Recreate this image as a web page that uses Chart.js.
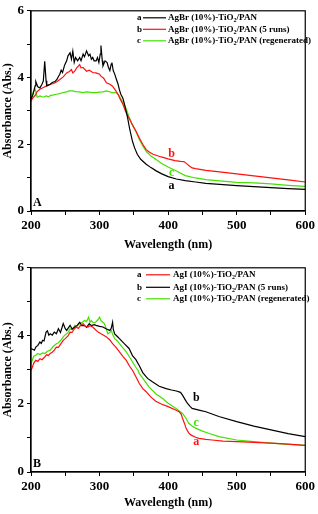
<!DOCTYPE html>
<html>
<head>
<meta charset="utf-8">
<script src="https://cdn.jsdelivr.net/npm/chart.js@4.4.1/dist/chart.umd.min.js"></script>
<style>
html,body{margin:0;padding:0;background:#fff;}
#wrap{position:relative;width:318px;height:514px;}
.panel{position:absolute;left:0;width:318px;}
#pa{top:0;height:256px;}
#pb{top:257px;height:257px;}
</style>
</head>
<body>
<div id="wrap">
  <div class="panel" id="pa"><canvas id="chartA"></canvas></div>
  <div class="panel" id="pb"><canvas id="chartB"></canvas></div>
</div>
<script>
// ---- panel A : AgBr ----
const brFreshX = [200,203,206,207,210,213,216,218,220,222,223,226,228,231,235,238,240,242,244,246,249,252,254,257,259,261,263,265,268,271,273,276,278,281,284,286,288,290,292,295,297,299,301,302,304,305,308,311,313,315,317,318,320,322,325,327,329,331,334,337,341,344,348,351,355,360,368,375,382,390,400,412,425,440,455,475,500,525,550,575,600];
const brFreshY = [3.36,3.5,3.75,3.88,3.72,3.69,3.8,3.9,4.49,3.9,3.75,3.78,3.8,3.85,3.88,3.95,4.03,4.1,4.22,4.15,4.37,4.5,4.65,4.74,4.55,4.79,4.45,4.6,4.5,4.6,4.5,4.7,4.62,4.8,4.65,4.7,4.55,4.6,4.5,4.5,4.6,4.45,4.7,4.96,4.5,4.35,4.5,4.45,4.3,4.21,4.4,4.45,4.2,4.11,3.92,3.8,3.63,3.5,3.38,3.15,2.78,2.45,2.09,1.9,1.7,1.55,1.4,1.3,1.21,1.12,1.03,0.96,0.91,0.87,0.83,0.8,0.76,0.73,0.7,0.67,0.65];

const brRunsX = [200,203,206,209,213,218,223,228,233,238,242,247,252,256,259,261,264,267,271,273,276,281,285,290,295,300,302,306,310,315,319,323,327,330,334,338,341,348,353,358,363,368,373,378,390,400,410,418,423,427,431,435,440,455,475,500,525,550,575,600];
const brRunsY = [3.31,3.4,3.46,3.58,3.65,3.7,3.75,3.8,3.82,3.88,3.94,4.02,4.14,4.18,4.24,4.14,4.2,4.3,4.39,4.29,4.3,4.19,4.22,4.15,4.14,4.1,4.04,3.98,3.84,3.8,3.74,3.62,3.5,3.36,3.2,2.98,2.86,2.58,2.4,2.19,2.0,1.84,1.76,1.7,1.62,1.56,1.51,1.49,1.48,1.42,1.35,1.29,1.27,1.22,1.17,1.11,1.05,0.99,0.93,0.87];

const brRegenX = [200,203,206,208,209,213,218,222,226,228,233,237,242,247,252,256,261,265,270,276,281,285,290,295,300,305,310,314,318,324,328,331,335,339,343,348,353,358,363,368,375,382,390,400,412,425,440,455,475,500,525,550,575,600];
const brRegenY = [3.26,3.56,3.65,3.5,3.41,3.45,3.41,3.45,3.42,3.46,3.48,3.5,3.52,3.55,3.57,3.6,3.6,3.58,3.57,3.55,3.57,3.56,3.55,3.55,3.56,3.57,3.6,3.58,3.55,3.55,3.47,3.36,3.2,3.06,2.82,2.58,2.38,2.14,1.95,1.79,1.65,1.55,1.43,1.32,1.2,1.06,0.99,0.94,0.9,0.86,0.84,0.81,0.77,0.74];

const legendA = ['AgBr (10%)-TiO2/PAN', 'AgBr (10%)-TiO2/PAN (5 runs)', 'AgBr (10%)-TiO2/PAN (regenerated)'];

// ---- panel B : AgI ----
const iFreshX = [200,202,204,207,210,213,216,220,223,225,228,231,234,237,240,243,247,250,254,257,260,263,266,269,272,276,279,283,286,290,294,298,302,306,310,315,319,324,329,334,339,344,348,353,358,363,368,375,382,390,400,411,416,419,421,424,426,430,433,440,445,455,464,480,500,525,550,575,600];
const iFreshY = [2.98,3.08,3.2,3.28,3.25,3.33,3.3,3.38,3.45,3.42,3.48,3.52,3.58,3.67,3.66,3.75,3.87,3.92,4.0,4.11,4.1,4.2,4.26,4.22,4.3,4.36,4.28,4.26,4.3,4.26,4.18,4.11,4.06,4.02,3.97,3.88,3.77,3.66,3.53,3.4,3.28,3.1,2.99,2.8,2.6,2.45,2.36,2.2,2.08,2.0,1.92,1.82,1.77,1.7,1.58,1.42,1.29,1.15,1.09,1.02,0.99,0.96,0.94,0.91,0.89,0.87,0.85,0.82,0.78];

const iRunsX = [200,203,205,207,210,213,215,217,219,222,224,226,228,231,234,237,240,243,247,250,252,255,257,260,264,267,271,274,278,281,285,288,292,295,300,305,310,315,317,319,320,322,326,329,336,343,348,353,358,363,370,377,387,397,405,412,418,421,425,428,432,435,445,455,474,500,525,550,575,600];
const iRunsY = [3.63,3.6,3.58,3.67,3.72,3.82,3.78,3.87,3.85,4.11,4.15,4.02,4.06,4.02,4.11,4.06,4.21,4.1,4.36,4.21,4.16,4.25,4.31,4.2,4.26,4.3,4.4,4.3,4.31,4.25,4.36,4.3,4.33,4.31,4.28,4.26,4.2,4.16,4.22,4.4,4.2,4.06,3.98,3.92,3.77,3.63,3.42,3.3,3.12,2.92,2.75,2.65,2.52,2.45,2.41,2.38,2.34,2.26,2.12,2.02,1.93,1.87,1.82,1.77,1.63,1.48,1.35,1.24,1.13,1.04];

const iRegenX = [200,202,204,207,210,213,217,220,224,228,232,237,240,244,247,251,254,257,260,264,267,271,275,278,281,284,286,288,290,293,295,298,300,302,305,307,310,312,315,317,320,322,326,329,334,339,343,348,352,356,358,365,372,382,392,400,411,416,421,426,430,435,440,450,459,474,500,525,550,575,600];
const iRegenY = [3.18,3.3,3.4,3.43,3.48,3.45,3.5,3.48,3.55,3.58,3.68,3.77,3.8,3.88,3.97,4.05,4.1,4.21,4.18,4.31,4.28,4.36,4.4,4.45,4.42,4.55,4.4,4.45,4.4,4.38,4.42,4.48,4.55,4.45,4.4,4.36,4.2,4.06,4.1,4.16,4.0,3.92,3.85,3.77,3.65,3.53,3.4,3.24,3.1,2.99,2.89,2.7,2.5,2.3,2.16,2.02,1.87,1.8,1.72,1.58,1.43,1.35,1.29,1.2,1.14,1.04,0.94,0.89,0.85,0.81,0.78];

const legendB = ['AgI (10%)-TiO2/PAN', 'AgI (10%)-TiO2/PAN (5 runs)', 'AgI (10%)-TiO2/PAN (regenerated)'];

const xTicks = [200, 300, 400, 500, 600];
const yTicks = [0, 2, 4, 6];

const RED = '#ff1010';
const GREEN = '#44e000';
const BLACK = '#000000';
const SERIF = '"Liberation Serif", "Times New Roman", serif';

function pts(xs, ys) {
  return xs.map((x, i) => ({x: x, y: ys[i]}));
}

// frame, legend, curve letters and panel letter
const decor = {
  id: 'decor',
  afterDatasetsDraw(chart, args, o) {
    const {ctx, chartArea: a, scales} = chart;
    ctx.save();
    ctx.strokeStyle = '#000';
    ctx.lineWidth = 1.2;
    ctx.strokeRect(a.left, a.top, a.right - a.left, a.bottom - a.top);

    ctx.textBaseline = 'middle';
    ctx.textAlign = 'left';
    chart.data.datasets.forEach((ds, i) => {
      const y = a.top + o.rowY[i];
      ctx.font = 'bold 9px ' + SERIF;
      ctx.fillStyle = '#000';
      ctx.fillText(o.letters[i], o.letterX, y);
      ctx.strokeStyle = ds.borderColor;
      ctx.lineWidth = 1.2;
      ctx.beginPath();
      ctx.moveTo(o.lineX[0], y);
      ctx.lineTo(o.lineX[1], y);
      ctx.stroke();
      const parts = ds.label.split('TiO2');
      let x = o.textX;
      ctx.fillText(parts[0] + 'TiO', x, y);
      x += ctx.measureText(parts[0] + 'TiO').width;
      ctx.font = 'bold 6px ' + SERIF;
      ctx.fillText('2', x, y + 3);
      x += ctx.measureText('2').width;
      ctx.font = 'bold 9px ' + SERIF;
      ctx.fillText(parts[1], x, y);

      // letter next to curve
      const p = o.curveLabels[i];
      ctx.font = 'bold 12px ' + SERIF;
      ctx.fillStyle = ds.borderColor;
      ctx.textAlign = 'center';
      ctx.fillText(o.letters[i], scales.x.getPixelForValue(p[0]), scales.y.getPixelForValue(p[1]));
      ctx.textAlign = 'left';
    });

    ctx.font = 'bold 12px ' + SERIF;
    ctx.fillStyle = '#000';
    ctx.fillText(o.panel, a.left + 2, a.bottom - 8);
    ctx.restore();
  }
};

function makeChart(id, datasets, padTop, xHeight, o) {
  return new Chart(document.getElementById(id), {
    type: 'line',
    data: {datasets: datasets},
    plugins: [decor],
    options: {
      responsive: true,
      maintainAspectRatio: false,
      animation: false,
      layout: {padding: {left: 0, right: 11, top: padTop, bottom: 0}},
      elements: {point: {radius: 0}, line: {borderWidth: 1.2, tension: 0}},
      plugins: {legend: {display: false}, tooltip: {enabled: false}, decor: o},
      scales: {
        x: {
          type: 'linear', min: 200, max: 600,
          afterFit: s => { s.height = xHeight; },
          grid: {drawOnChartArea: false, tickLength: 4, color: '#000', tickColor: '#000'},
          border: {color: '#000', width: 1.2},
          ticks: {
            stepSize: 50, autoSkip: false, maxRotation: 0, padding: 3, color: '#000',
            font: {family: SERIF, size: 13, weight: 'bold'},
            callback: v => xTicks.includes(v) ? v : ''
          },
          title: {display: true, text: 'Wavelength (nm)', color: '#000',
            font: {family: SERIF, size: 12, weight: 'bold'}, padding: {top: 0, bottom: 4}}
        },
        y: {
          min: 0, max: 6,
          afterFit: s => { s.width = 31; },
          grid: {drawOnChartArea: false, tickLength: 4, color: '#000', tickColor: '#000'},
          border: {color: '#000', width: 1.2},
          ticks: {
            stepSize: 1, autoSkip: false, padding: 3, color: '#000',
            font: {family: SERIF, size: 13, weight: 'bold'},
            callback: v => yTicks.includes(v) ? v : ''
          },
          title: {display: true, text: 'Absorbance (Abs.)', color: '#000',
            font: {family: SERIF, size: 12, weight: 'bold'}, padding: {top: 1, bottom: 0}}
        }
      }
    }
  });
}

makeChart('chartA', [
  {label: legendA[0], data: pts(brFreshX, brFreshY), borderColor: BLACK},
  {label: legendA[1], data: pts(brRunsX, brRunsY), borderColor: RED},
  {label: legendA[2], data: pts(brRegenX, brRegenY), borderColor: GREEN}
], 7, 45, {
  panel: 'A', letters: ['a', 'b', 'c'],
  letterX: 137, lineX: [143, 166], textX: 168, rowY: [7, 18.5, 30],
  curveLabels: [[405, 0.76], [405, 1.71], [405, 1.15]]
});

makeChart('chartB', [
  {label: legendB[0], data: pts(iFreshX, iFreshY), borderColor: RED},
  {label: legendB[1], data: pts(iRunsX, iRunsY), borderColor: BLACK},
  {label: legendB[2], data: pts(iRegenX, iRegenY), borderColor: GREEN}
], 10, 42, {
  panel: 'B', letters: ['a', 'b', 'c'],
  letterX: 137, lineX: [146, 170], textX: 173, rowY: [7, 19.5, 31],
  curveLabels: [[441, 0.89], [441, 2.17], [441, 1.44]]
});
</script>
</body>
</html>
